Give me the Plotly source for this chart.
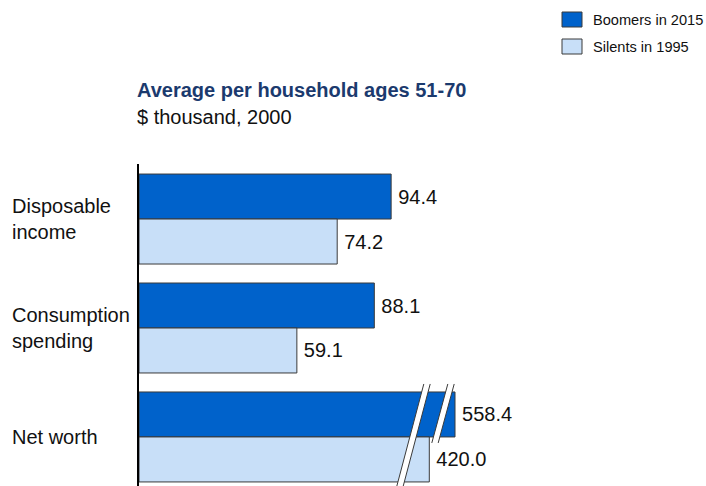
import plotly.graph_objects as go

# ---- data ----
categories = ["Disposable<br>income", "Consumption<br>spending", "Net worth"]
series_names = ["Boomers in 2015", "Silents in 1995"]
boomers = [94.4, 88.1, 558.4]
silents = [74.2, 59.1, 420.0]

# ---- style ----
C_BOOM = "#0062CB"
C_SIL = "#C8DFF8"
C_EDGE = "#3a3a3a"
FONT = "Liberation Sans, Arial, sans-serif"
FS = 20
W, H = 706, 486
ML, MR, MT, MB = 139, 6, 164, 0
PW = W - ML - MR
PH = H - MT - MB

# main scale (px per unit) and broken scale for net worth
K1 = 2.671
X1_MAX = PW / K1
# broken axis for the last category: chosen so bars keep their visual lengths
K2 = 0.18569
X2_MIN = -1143.4
X2_MAX = X2_MIN + PW / K2

PAD = "\u2009"  # small gap between bar end and its value label

fig = go.Figure()

small_idx = [0, 1]
big_idx = [2]
for name, vals, col in [(series_names[0], boomers, C_BOOM), (series_names[1], silents, C_SIL)]:
    fig.add_trace(go.Bar(
        y=[categories[i] for i in small_idx], x=[vals[i] for i in small_idx],
        orientation="h", name=name, marker=dict(color=col, line=dict(color=C_EDGE, width=1)),
        text=[PAD + f"{vals[i]:.1f}" for i in small_idx], textposition="outside",
        textfont=dict(family=FONT, size=FS, color="#111"), cliponaxis=False,
        offsetgroup=name, xaxis="x", yaxis="y", showlegend=False,
    ))
for name, vals, col in [(series_names[0], boomers, C_BOOM), (series_names[1], silents, C_SIL)]:
    fig.add_trace(go.Bar(
        y=[categories[i] for i in big_idx], x=[vals[i] - X2_MIN for i in big_idx],
        base=[X2_MIN for _ in big_idx],
        orientation="h", name=name, marker=dict(color=col, line=dict(color=C_EDGE, width=1)),
        text=[PAD + f"{vals[i]:.1f}" for i in big_idx], textposition="outside",
        textfont=dict(family=FONT, size=FS, color="#111"), cliponaxis=False,
        offsetgroup=name, xaxis="x2", yaxis="y", showlegend=False,
    ))

# axis-break marks (decoration) in main-axis units / category units
def px2x(px):
    return (px - ML) / K1

def py2y(py):
    # category index 2 centre sits at 437px, 109px per category
    return 2 + (py - 437) / 109.0

shapes = []
for (xb, yb, xt, yt) in [(399, 490, 427, 384), (435, 443, 451, 384)]:
    hw = 3.2
    path = (f"M{px2x(xb-hw)},{py2y(yb)} L{px2x(xt-hw)},{py2y(yt)} "
            f"L{px2x(xt+hw)},{py2y(yt)} L{px2x(xb+hw)},{py2y(yb)} Z")
    shapes.append(dict(type="path", xref="x", yref="y", path=path,
                       fillcolor="white", line=dict(width=0), layer="above"))
    for s in (-hw, hw):
        shapes.append(dict(type="line", xref="x", yref="y",
                           x0=px2x(xb + s), y0=py2y(yb), x1=px2x(xt + s), y1=py2y(yt),
                           line=dict(color=C_EDGE, width=1), layer="above"))

# legend (drawn manually)
def pxx(px):
    return (px - ML) / PW

def pyy(py):
    return (H - MB - py) / PH

annotations = []
for i, (name, col) in enumerate([(series_names[0], C_BOOM), (series_names[1], C_SIL)]):
    top = 12 + i * 27
    shapes.append(dict(type="rect", xref="paper", yref="paper",
                       x0=pxx(562), x1=pxx(582), y0=pyy(top + 15), y1=pyy(top),
                       fillcolor=col, line=dict(color=C_EDGE, width=1)))
    annotations.append(dict(text=name, xref="paper", yref="paper", x=pxx(591), y=pyy(top + 7.5),
                            xanchor="left", yanchor="middle", showarrow=False,
                            font=dict(family=FONT, size=14.6, color="#111")))

# category labels
for c in categories:
    annotations.append(dict(text=c, xref="paper", yref="y", x=pxx(10), y=c,
                            xanchor="left", yanchor="middle", align="left", showarrow=False,
                            font=dict(family=FONT, size=FS, color="#111")))

# title and subtitle
annotations.append(dict(text="<b>Average per household ages 51-70</b>", xref="paper", yref="paper",
                        x=pxx(135), y=pyy(90), xanchor="left", yanchor="middle", showarrow=False,
                        font=dict(family=FONT, size=FS, color="#1B3A6E")))
annotations.append(dict(text="$ thousand, 2000", xref="paper", yref="paper",
                        x=pxx(135), y=pyy(117), xanchor="left", yanchor="middle", showarrow=False,
                        font=dict(family=FONT, size=FS, color="#111")))

fig.update_layout(
    width=W, height=H, margin=dict(l=ML, r=MR, t=MT, b=MB, pad=0),
    paper_bgcolor="white", plot_bgcolor="white",
    barmode="group", bargap=19 / 109, bargroupgap=0,
    xaxis=dict(range=[0, X1_MAX], visible=False, fixedrange=True),
    xaxis2=dict(range=[X2_MIN, X2_MAX], overlaying="x", visible=False, fixedrange=True),
    yaxis=dict(type="category", categoryorder="array", categoryarray=categories,
               range=[2.45, -0.505], showticklabels=False, ticks="", showgrid=False,
               showline=True, linecolor="#000", linewidth=2, zeroline=False, fixedrange=True),
    shapes=shapes, annotations=annotations, showlegend=False,
)

fig.write_html("out.html")
